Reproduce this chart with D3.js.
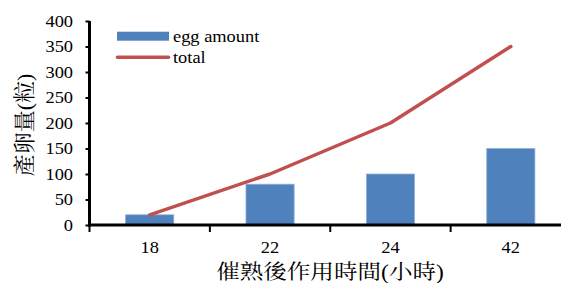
<!DOCTYPE html>
<html>
<head>
<meta charset="utf-8">
<script src="https://cdn.jsdelivr.net/npm/d3@7/dist/d3.min.js"></script>
<style>
  body { margin: 0; background: #fff; }
  svg { display: block; }
</style>
</head>
<body>
<div class="chart"></div>
<script>
// chart data
var categories = ["18", "22", "24", "42"];
var eggAmount = [20, 80, 100, 150];
var total = [20, 100, 200, 350];
var yTicks = [0, 50, 100, 150, 200, 250, 300, 350, 400];

var svgWidth = 561, svgHeight = 283;
var stretch = 1.15; // text in the picture is a bit wider than tall
var fontFam = "'Liberation Serif', 'Noto Serif CJK TC', serif";

var svg = d3.select(".chart")
  .append("svg")
  .attr("width", svgWidth)
  .attr("height", svgHeight);

// scales
var xScale = d3.scaleBand()
  .domain(categories)
  .range([89.5, 571])
  .padding(0);

var yScale = d3.scaleLinear()
  .domain([0, 400])
  .range([225, 21]);

var barWidth = xScale.bandwidth() * 0.4;

// bars
svg.append("g").selectAll("rect")
  .data(eggAmount)
  .enter()
  .append("rect")
  .attr("x", (d, i) => xScale(categories[i]) + xScale.bandwidth() / 2 - barWidth / 2)
  .attr("y", d => yScale(d))
  .attr("width", barWidth)
  .attr("height", d => yScale(0) - yScale(d))
  .attr("fill", "#4F81BD")
  .attr("stroke", "#8EB0DC")
  .attr("stroke-width", 0.8);

// line
var line = d3.line()
  .x((d, i) => xScale(categories[i]) + xScale.bandwidth() / 2)
  .y(d => yScale(d));

svg.append("path")
  .datum(total)
  .attr("d", line)
  .attr("fill", "none")
  .attr("stroke", "#C0504D")
  .attr("stroke-width", 3.5)
  .attr("stroke-linecap", "round")
  .attr("stroke-linejoin", "round");

// y axis
var yAxis = d3.axisLeft(yScale)
  .tickValues(yTicks)
  .tickSize(4)
  .tickSizeOuter(0)
  .tickPadding(10.3);

var yAxisG = svg.append("g")
  .attr("transform", "translate(89.5,0)")
  .call(yAxis);
yAxisG.select(".domain").attr("stroke-width", 3).attr("d", "M0,226.5V21");
yAxisG.selectAll(".tick line").attr("stroke-width", 2);
yAxisG.selectAll(".tick text")
  .style("font-family", fontFam)
  .style("font-size", "16px")
  .attr("fill", "#000")
  .attr("transform", `scale(${stretch},1)`);

// x axis (drawn by hand: ticks sit between categories)
var xAxisG = svg.append("g");
xAxisG.append("line")
  .attr("x1", 88)
  .attr("x2", 561)
  .attr("y1", yScale(0))
  .attr("y2", yScale(0))
  .attr("stroke", "#000")
  .attr("stroke-width", 3);

xAxisG.selectAll(".xtick")
  .data(categories)
  .enter()
  .append("line")
  .attr("class", "xtick")
  .attr("x1", d => xScale(d))
  .attr("x2", d => xScale(d))
  .attr("y1", yScale(0))
  .attr("y2", yScale(0) + 7)
  .attr("stroke", "#000")
  .attr("stroke-width", 2);

xAxisG.selectAll(".xlabel")
  .data(categories)
  .enter()
  .append("text")
  .attr("class", "xlabel")
  .attr("text-anchor", "middle")
  .style("font-family", fontFam)
  .style("font-size", "16px")
  .attr("transform", d => `translate(${xScale(d) + xScale.bandwidth() / 2},253) scale(${stretch},1)`)
  .text(d => d);

// axis titles
svg.append("text")
  .attr("text-anchor", "middle")
  .style("font-family", fontFam)
  .style("font-size", "20.5px")
  .attr("transform", `translate(330,279) scale(${stretch},1)`)
  .text("催熟後作用時間(小時)");

svg.append("text")
  .attr("text-anchor", "middle")
  .style("font-family", fontFam)
  .style("font-size", "22px")
  .attr("transform", "translate(31.5,125) rotate(-90)")
  .text("產卵量(粒)");

// legend
var legend = svg.append("g");
legend.append("rect")
  .attr("x", 117)
  .attr("y", 31.7)
  .attr("width", 52)
  .attr("height", 9)
  .attr("fill", "#4F81BD");
legend.append("line")
  .attr("x1", 117.5)
  .attr("x2", 168.5)
  .attr("y1", 57.3)
  .attr("y2", 57.3)
  .attr("stroke", "#C0504D")
  .attr("stroke-width", 3.5)
  .attr("stroke-linecap", "round");
legend.append("text")
  .style("font-family", fontFam)
  .style("font-size", "16px")
  .attr("transform", `translate(173,41.5) scale(${stretch},1)`)
  .text("egg amount");
legend.append("text")
  .style("font-family", fontFam)
  .style("font-size", "16px")
  .attr("transform", `translate(173,62.5) scale(${stretch},1)`)
  .text("total");
</script>
</body>
</html>
